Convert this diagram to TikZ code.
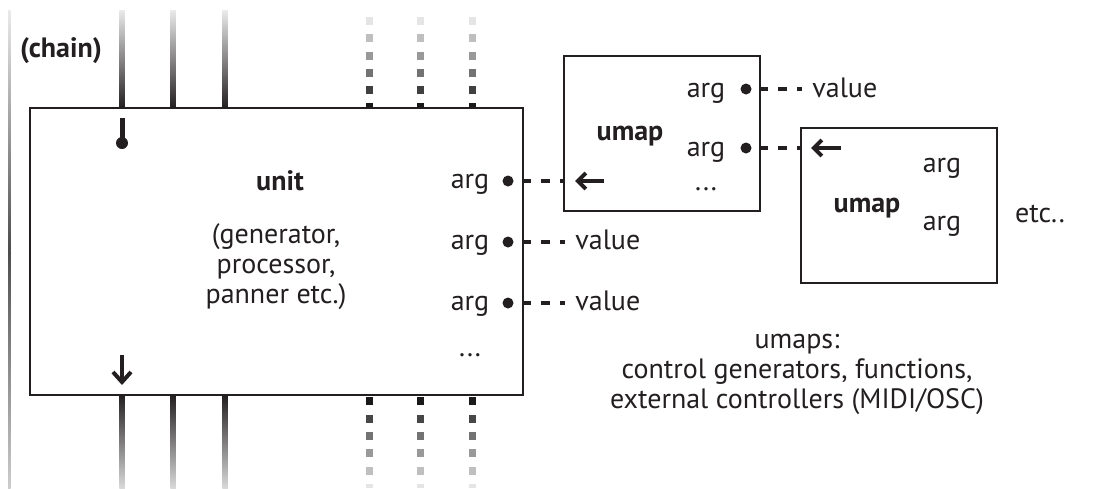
\documentclass[tikz,border=0pt]{standalone}
\usepackage{fontspec}
\setmainfont{PT Sans}
\usetikzlibrary{arrows.meta, positioning}
\definecolor{ink}{HTML}{231F20}
\tikzset{
	unitbox/.style={draw=ink, line width=1pt, rectangle, fill=white, inner sep=0pt, minimum width=246.5pt, minimum height=143.5pt},
	mapbox/.style={draw=ink, line width=1pt, rectangle, fill=white, inner sep=0pt, minimum width=98pt, minimum height=77.5pt},
	txt/.style={text=ink, inner sep=0pt, font=\fontsize{14}{15}\selectfont},
	bold/.style={txt, font=\fontsize{14}{15}\selectfont\bfseries},
	argdot/.style={circle, fill=ink, inner sep=0pt, minimum size=5.5pt},
	link/.style={ink, line width=2pt, dash pattern=on 4.5pt off 5pt, dash phase=1pt},
	feed/.style={ink, line width=2pt, -{Straight Barb[length=4pt, width=8pt]}},
}

\begin{document}
\begin{tikzpicture}[x=0.5pt, y=-0.5pt]
	\useasboundingbox (0,0) rectangle (1097,488);
	
	% left rail and the audio chain lines
	\shade[top color=black!8, bottom color=black!70] (8,10) rectangle (10.5,250);
	\shade[top color=black!70, bottom color=black!20] (8,250) rectangle (10.5,488);
	\foreach \x in {122,173,225} {
		\shade[top color=black!8, bottom color=ink] (\x-2.75,10) rectangle (\x+2.75,108);
		\shade[top color=ink, bottom color=black!15] (\x-2.75,395) rectangle (\x+2.75,488);
	}
	\foreach \x in {369,420,472} {
		\foreach \y/\c in {17/10,34/25,52/40,69/55,86/75} {
			\fill[black!\c] (\x-3.5,\y) rectangle (\x+3.5,\y+8);
		}
		\fill[black!90] (\x-3.5,103) rectangle (\x+3.5,108);
		\foreach \y/\c in {397/90,415/72,432/55,449/40,467/25} {
			\fill[black!\c] (\x-3.5,\y) rectangle (\x+3.5,\y+8);
		}
		\fill[black!10] (\x-3.5,484) rectangle (\x+3.5,488);
	}
	
	\node (chain) [bold, anchor=base] at (61,57) {(chain)};
	
	% unit
	\node (unit) [unitbox] at (276.5,251.5) {};
	\node (unitname) [bold, anchor=base] at (280,190) {unit};
	\node (unitkind) [txt, align=center] at (276,267) {(generator,\\processor,\\panner etc.)};
	\node (arg1) [txt, anchor=base] at (470,188) {arg};
	\node (arg2) [txt, anchor=base] at (470,249) {arg};
	\node (arg3) [txt, anchor=base] at (470,310) {arg};
	\node (more) [txt, anchor=base] at (470,356) {...};
	\node (pin1) [argdot] at (508,181) {};
	\node (pin2) [argdot] at (508,242) {};
	\node (pin3) [argdot] at (508,303) {};
	\node (val2) [txt, anchor=base west] at (575,249) {value};
	\node (val3) [txt, anchor=base west] at (575,310) {value};
	
	\coordinate (inlet) at (122,118);
	\coordinate (outlet) at (122,355);
	\draw[ink, line width=2.5pt] (inlet) -- ++(0,22);
	\fill[ink] ([yshift=-12.5pt]inlet) circle (3pt);
	\draw[ink, line width=2pt, -{Straight Barb[length=5pt, width=9pt]}] (outlet) -- ++(0,30);
	
	% first umap
	\node (mapA) [mapbox] at (662,133.5) {};
	\node (mapAname) [bold, anchor=base] at (630,140) {umap};
	\node (mapAarg1) [txt, anchor=base] at (706,97) {arg};
	\node (mapAarg2) [txt, anchor=base] at (706,156) {arg};
	\node (mapAmore) [txt, anchor=base] at (706,190) {...};
	\node (mapApin1) [argdot] at (746,89) {};
	\node (mapApin2) [argdot] at (746,148) {};
	\node (mapAval) [txt, anchor=base west] at (812,97) {value};
	
	% second umap
	\node (mapB) [mapbox] at (899,205.5) {};
	\node (mapBname) [bold, anchor=base] at (867,212) {umap};
	\node (mapBarg1) [txt, anchor=base] at (942,172) {arg};
	\node (mapBarg2) [txt, anchor=base] at (942,230) {arg};
	\node (etc) [txt, anchor=base] at (1040,222) {etc..};
	
	\node (note) [txt, align=center] at (797,374) {umaps:\\control generators, functions,\\external controllers (MIDI/OSC)};
	
	% argument links
	\draw[link] (pin1 -| unit.east) -- (pin1 -| mapA.west);
	\draw[feed] ([xshift=20.5pt]pin1 -| mapA.west) -- ([xshift=6pt]pin1 -| mapA.west);
	\draw[link] (pin2 -| unit.east) -- ([xshift=-5pt]val2.west |- pin2);
	\draw[link] (pin3 -| unit.east) -- ([xshift=-5pt]val3.west |- pin3);
	\draw[link] (mapApin1 -| mapA.east) -- ([xshift=-5pt]mapAval.west |- mapApin1);
	\draw[link] (mapApin2 -| mapA.east) -- (mapApin2 -| mapB.west);
	\draw[feed] ([xshift=20.5pt]mapApin2 -| mapB.west) -- ([xshift=5.5pt]mapApin2 -| mapB.west);
\end{tikzpicture}
\end{document}
